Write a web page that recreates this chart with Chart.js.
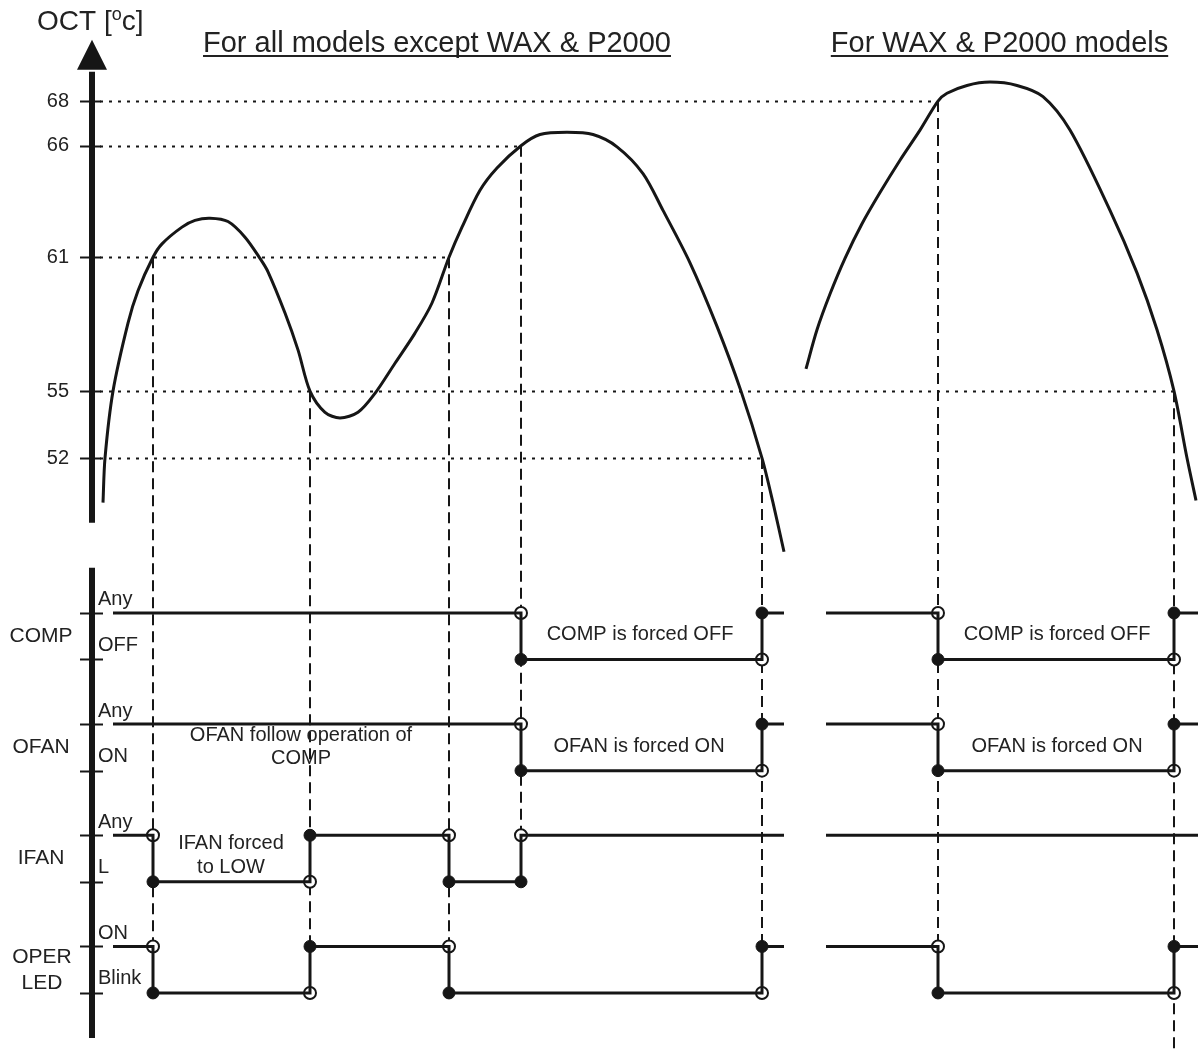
<!DOCTYPE html>
<html>
<head>
<meta charset="utf-8">
<script src="https://cdn.jsdelivr.net/npm/chart.js@4.4.0/dist/chart.umd.min.js"></script>
<style>
  body { margin: 0; background: #fff; }
  #wrap { width: 1198px; height: 1052px; }
</style>
</head>
<body>
<div id="wrap"><canvas id="chart" width="1198" height="1052"></canvas></div>
<script>
// time runs along x (arbitrary units), OCT temperature in ºC
const tempTicks = [68, 66, 61, 55, 52];
const tempGuideEnd = [938, 521, 449, 1174, 762];   // where each dotted level meets the curve

// all models except WAX & P2000
const curveA_t = [103, 105, 113, 128, 138, 153, 162, 182, 195, 210, 228, 245, 260, 268, 285, 298, 310, 325, 340, 358, 375, 395, 415, 432, 449, 462, 480, 497, 521, 540, 567, 593, 617, 643, 663, 690, 717, 741, 762, 773, 784];
const curveA_T = [50.0, 52.0, 55.0, 58.05, 59.5, 61.0, 61.6, 62.35, 62.65, 62.75, 62.6, 61.9, 60.95, 60.35, 58.5, 56.85, 55.0, 54.05, 53.8, 54.05, 54.9, 56.25, 57.6, 58.95, 61.0, 62.35, 64.0, 65.0, 66.0, 66.5, 66.6, 66.5, 65.95, 64.75, 63.1, 60.75, 57.9, 55.0, 52.0, 50.0, 47.8];
// WAX & P2000 models
const curveB_t = [806, 817, 830, 845, 862, 880, 900, 920, 938, 947, 967, 990, 1017, 1043, 1070, 1110, 1137, 1157, 1174, 1187, 1196];
const curveB_T = [56.0, 57.75, 59.35, 60.95, 62.5, 63.9, 65.35, 66.7, 68.0, 68.35, 68.7, 68.85, 68.7, 68.2, 66.7, 63.1, 60.3, 57.75, 55.0, 52.0, 50.1];

// events: time, temperature reached, where the dashed line stops [row, level]
const eventT = [153, 310, 449, 521, 762, 938, 1174];
const eventTemp = [61, 55, 61, 66, 52, 68, 55];
const eventEnd = [[3, 1], [3, 1], [3, 0], [2, 0], [3, 0], [3, 0], null];

// output rows
const rowNames = [['COMP'], ['OFAN'], ['IFAN'], ['OPER', 'LED']];
const rowHighLabel = ['Any', 'Any', 'Any', 'ON'];
const rowLowLabel = ['OFF', 'ON', 'L', 'Blink'];

// switching times and levels (1 = upper, 0 = lower)
const compA_t = [113, 521, 762, 784];              const compA_lv = [1, 0, 1];
const compB_t = [826, 938, 1174, 1198];            const compB_lv = [1, 0, 1];
const ofanA_t = [113, 521, 762, 784];              const ofanA_lv = [1, 0, 1];
const ofanB_t = [826, 938, 1174, 1198];            const ofanB_lv = [1, 0, 1];
const ifanA_t = [113, 153, 310, 449, 521, 784];    const ifanA_lv = [1, 0, 1, 0, 1];
const ifanB_t = [826, 1198];                       const ifanB_lv = [1];
const operA_t = [113, 153, 310, 449, 762, 784];    const operA_lv = [1, 0, 1, 0, 1];
const operB_t = [826, 938, 1174, 1198];            const operB_lv = [1, 0, 1];

// transitions where the filled dot sits on the starting level
const swappedMarks = [{ row: 2, t: 521 }];

const notes = [
  { t: 640, row: 0, dv: -0.47, text: 'COMP is forced OFF' },
  { t: 1057, row: 0, dv: -0.47, text: 'COMP is forced OFF' },
  { t: 639, row: 1, dv: -0.49, text: 'OFAN is forced ON' },
  { t: 1057, row: 1, dv: -0.49, text: 'OFAN is forced ON' },
  { t: 301, row: 1, dv: -0.24, text: 'OFAN follow operation of' },
  { t: 301, row: 1, dv: -0.74, text: 'COMP' },
  { t: 231, row: 2, dv: -0.17, text: 'IFAN forced' },
  { t: 231, row: 2, dv: -0.69, text: 'to LOW' }
];

const ROW_GAP = 2.39;
function level(row, lv) { return -row * ROW_GAP + (lv ? 0 : -1); }

const INK = '#161616';
const FONT = '"Liberation Sans", Arial, sans-serif';

const datasets = [];
const openMarks = [];
const filledMarks = [];

function addCurve(ts, temps) {
  datasets.push({
    data: ts.map((t, i) => ({ x: t, y: temps[i] })),
    yAxisID: 'yT', showLine: true, borderColor: INK, borderWidth: 3,
    pointRadius: 0, tension: 0.3
  });
}

function addSignal(ts, lvs, row) {
  const pts = [];
  for (let i = 0; i < lvs.length; i++) {
    pts.push({ x: ts[i], y: level(row, lvs[i]) });
    pts.push({ x: ts[i + 1], y: level(row, lvs[i]) });
  }
  for (let i = 1; i < lvs.length; i++) {
    const t = ts[i];
    const swap = swappedMarks.some(s => s.row === row && s.t === t);
    openMarks.push({ x: t, y: level(row, swap ? lvs[i] : lvs[i - 1]) });
    filledMarks.push({ x: t, y: level(row, swap ? lvs[i - 1] : lvs[i]) });
  }
  datasets.push({
    data: pts, yAxisID: 'ys', showLine: true, borderColor: INK, borderWidth: 3,
    pointRadius: 0, tension: 0
  });
}

addCurve(curveA_t, curveA_T);
addCurve(curveB_t, curveB_T);
addSignal(compA_t, compA_lv, 0);
addSignal(compB_t, compB_lv, 0);
addSignal(ofanA_t, ofanA_lv, 1);
addSignal(ofanB_t, ofanB_lv, 1);
addSignal(ifanA_t, ifanA_lv, 2);
addSignal(ifanB_t, ifanB_lv, 2);
addSignal(operA_t, operA_lv, 3);
addSignal(operB_t, operB_lv, 3);

datasets.push({
  data: filledMarks, yAxisID: 'ys', showLine: false,
  pointRadius: 6, backgroundColor: INK, borderColor: INK, borderWidth: 1
});
datasets.push({
  data: openMarks, yAxisID: 'ys', showLine: false,
  pointRadius: 6, backgroundColor: '#fff', borderColor: INK, borderWidth: 2
});

const diagram = {
  id: 'diagram',
  beforeDatasetsDraw(chart) {
    const { ctx } = chart;
    const x = chart.scales.x, yT = chart.scales.yT, ys = chart.scales.ys;
    ctx.save();
    ctx.strokeStyle = INK;
    ctx.lineWidth = 2;
    // dotted temperature levels
    ctx.setLineDash([3, 6]);
    tempTicks.forEach((T, i) => {
      const py = Math.round(yT.getPixelForValue(T)) + 0.5;
      ctx.beginPath();
      ctx.moveTo(x.getPixelForValue(100), py);
      ctx.lineTo(x.getPixelForValue(tempGuideEnd[i]), py);
      ctx.stroke();
    });
    // dashed event lines
    ctx.setLineDash([11, 6]);
    eventT.forEach((t, i) => {
      const px = Math.round(x.getPixelForValue(t));
      const end = eventEnd[i];
      const bottom = end ? ys.getPixelForValue(level(end[0], end[1])) : ys.getPixelForValue(ys.min);
      ctx.beginPath();
      ctx.moveTo(px, yT.getPixelForValue(eventTemp[i]));
      ctx.lineTo(px, bottom);
      ctx.stroke();
    });
    ctx.restore();
  },
  afterDatasetsDraw(chart) {
    const { ctx } = chart;
    const x = chart.scales.x, yT = chart.scales.yT, ys = chart.scales.ys;
    const ax = x.getPixelForValue(92);
    ctx.save();
    ctx.strokeStyle = INK;
    ctx.fillStyle = INK;

    // upper axis with arrow
    const arrowBase = yT.getPixelForValue(69.4);
    const arrowTip = yT.getPixelForValue(70.75);
    ctx.lineWidth = 6;
    ctx.beginPath();
    ctx.moveTo(ax, yT.getPixelForValue(49.1));
    ctx.lineTo(ax, arrowBase + 2);
    ctx.stroke();
    ctx.beginPath();
    ctx.moveTo(ax, arrowTip);
    ctx.lineTo(ax - 15, arrowBase);
    ctx.lineTo(ax + 15, arrowBase);
    ctx.closePath();
    ctx.fill();

    // lower axis
    ctx.beginPath();
    ctx.moveTo(ax, ys.getPixelForValue(0.97));
    ctx.lineTo(ax, ys.getPixelForValue(-9.14));
    ctx.stroke();

    // ticks
    ctx.lineWidth = 2;
    tempTicks.forEach(T => {
      const py = Math.round(yT.getPixelForValue(T)) + 0.5;
      ctx.beginPath();
      ctx.moveTo(x.getPixelForValue(80), py);
      ctx.lineTo(x.getPixelForValue(101), py);
      ctx.stroke();
    });
    rowNames.forEach((n, r) => {
      [1, 0].forEach(lv => {
        const py = Math.round(ys.getPixelForValue(level(r, lv))) + 0.5;
        ctx.beginPath();
        ctx.moveTo(x.getPixelForValue(80), py);
        ctx.lineTo(x.getPixelForValue(103), py);
        ctx.stroke();
      });
    });

    // tick labels
    ctx.fillStyle = '#222';
    ctx.font = '20px ' + FONT;
    ctx.textAlign = 'right';
    ctx.textBaseline = 'middle';
    tempTicks.forEach(T => {
      ctx.fillText(String(T), x.getPixelForValue(69), yT.getPixelForValue(T));
    });

    // level labels
    ctx.textAlign = 'left';
    rowNames.forEach((n, r) => {
      ctx.fillText(rowHighLabel[r], x.getPixelForValue(98), ys.getPixelForValue(level(r, 1) + 0.28));
      ctx.fillText(rowLowLabel[r], x.getPixelForValue(98), ys.getPixelForValue(level(r, 1) - 0.7));
    });

    // row names
    ctx.font = '21px ' + FONT;
    ctx.textAlign = 'center';
    rowNames.forEach((n, r) => {
      if (n.length === 1) {
        ctx.fillText(n[0], x.getPixelForValue(41), ys.getPixelForValue(level(r, 1) - 0.5));
      } else {
        ctx.fillText(n[0], x.getPixelForValue(42), ys.getPixelForValue(level(r, 1) - 0.24));
        ctx.fillText(n[1], x.getPixelForValue(42), ys.getPixelForValue(level(r, 1) - 0.78));
      }
    });

    // notes
    ctx.font = '20px ' + FONT;
    notes.forEach(n => {
      ctx.fillText(n.text, x.getPixelForValue(n.t), ys.getPixelForValue(level(n.row, 1) + n.dv));
    });

    // title of the temperature axis
    ctx.font = '28px ' + FONT;
    ctx.textAlign = 'left';
    ctx.textBaseline = 'alphabetic';
    let tx = 37;
    const ty = 30;
    ctx.fillText('OCT [', tx, ty);
    tx += ctx.measureText('OCT [').width;
    ctx.font = '18px ' + FONT;
    ctx.fillText('o', tx, ty - 10);
    tx += ctx.measureText('o').width;
    ctx.font = '28px ' + FONT;
    ctx.fillText('c]', tx, ty);

    // section headings, underlined
    ctx.font = '29px ' + FONT;
    ctx.textAlign = 'center';
    [['For all models except WAX & P2000', 437], ['For WAX & P2000 models', 999.5]].forEach(([s, cx]) => {
      const px = x.getPixelForValue(cx);
      ctx.fillText(s, px, 52);
      const w = ctx.measureText(s).width;
      ctx.fillRect(px - w / 2, 55, w, 2);
    });

    ctx.restore();
  }
};

const chart = new Chart(document.getElementById('chart'), {
  type: 'scatter',
  data: { datasets },
  options: {
    responsive: false,
    animation: false,
    events: [],
    layout: { padding: 0, autoPadding: false },
    plugins: { legend: { display: false }, tooltip: { enabled: false }, title: { display: false } },
    scales: {
      x: { type: 'linear', min: 0, max: 1198, display: false },
      yT: { type: 'linear', axis: 'y', min: 25.38, max: 72.53, display: false },
      ys: { type: 'linear', axis: 'y', min: -9.44, max: 13.18, display: false }
    }
  },
  plugins: [diagram]
});
</script>
</body>
</html>
